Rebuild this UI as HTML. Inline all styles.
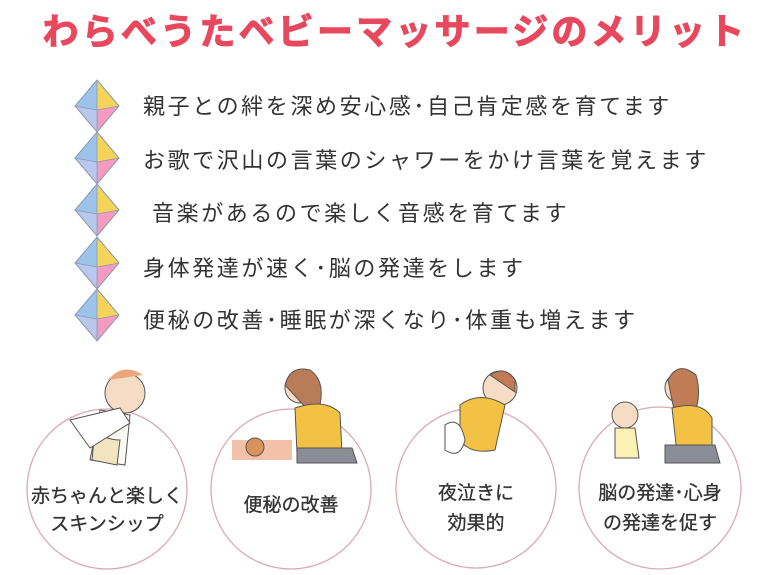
<!DOCTYPE html>
<html><head><meta charset="utf-8"><style>
html,body{margin:0;padding:0;background:#fff;width:767px;height:575px;overflow:hidden}
svg{display:block}
text{font-family:"Liberation Sans","Noto Sans CJK JP",sans-serif}
</style></head><body>
<svg width="767" height="575" viewBox="0 0 767 575" xmlns="http://www.w3.org/2000/svg">
<defs>
<g id="dia">
<polygon points="0,-26 -22,0 0,4" fill="#9cc3ea"/>
<polygon points="0,-26 22,0 0,4" fill="#f6d45a"/>
<polygon points="-22,0 0,4 0,26" fill="#b7c8ec"/>
<polygon points="22,0 0,4 0,26" fill="#f59ac0"/>
<polygon points="0,-26 22,0 0,26 -22,0" fill="none" stroke="#8a9ab0" stroke-width="1"/>
<path d="M-22,0 L0,4 L22,0 M0,-26 L0,26" stroke="#8a9ab0" stroke-width="0.8" fill="none"/>
</g>
</defs>
<text x="395" y="44" text-anchor="middle" font-size="36" font-weight="bold" fill="#e8485e" stroke="#e8485e" stroke-width="1" letter-spacing="3.2">わらべうたベビーマッサージのメリット</text>
<use href="#dia" x="97" y="106"/>
<use href="#dia" x="97" y="158"/>
<use href="#dia" x="97" y="210"/>
<use href="#dia" x="97" y="263"/>
<use href="#dia" x="97" y="315"/>
<g font-size="22" fill="#333" letter-spacing="2.6">
<text x="143" y="114">親子との絆を深め安心感･自己肯定感を育てます</text>
<text x="143" y="168">お歌で沢山の言葉のシャワーをかけ言葉を覚えます</text>
<text x="152" y="221">音楽があるので楽しく音感を育てます</text>
<text x="143" y="276">身体発達が速く･脳の発達をします</text>
<text x="143" y="328">便秘の改善･睡眠が深くなり･体重も増えます</text>
</g>
<g fill="#fff" stroke="#d9a9b0" stroke-width="1.3">
<circle cx="107" cy="489" r="80"/>
<circle cx="291" cy="489" r="80"/>
<circle cx="476" cy="488" r="80"/>
<circle cx="660" cy="488" r="81"/>
</g>
<g stroke="#555" stroke-width="1">
<circle cx="125" cy="393" r="20" fill="#f6dcc4"/>
<path d="M108 380 q15 -18 35 -5" fill="#e9a77a" stroke="none"/>
<path d="M100 410 l30 5 l-5 50 l-35 -5 z" fill="#fbfbf5"/>
<path d="M95 430 q10 10 25 10 l-3 25 l-25 -5 z" fill="#f3e4c0"/>
<path d="M70 420 l50 -12 l10 15 l-40 25 z" fill="#fff"/>
<circle cx="300" cy="388" r="15" fill="#f6dcc4"/>
<path d="M285 385 q5 -20 25 -15 q15 10 10 35 l-12 5 z" fill="#b97c58"/>
<path d="M295 408 q30 -10 45 5 l2 40 l-45 0 z" fill="#f3c244"/>
<path d="M297 448 l55 0 l5 15 l-60 0 z" fill="#8a8d96"/>
<rect x="232" y="440" width="60" height="20" fill="#f2c1a8" stroke="none"/>
<circle cx="255" cy="447" r="9" fill="#d8925c"/>
<circle cx="500" cy="388" r="17" fill="#f6dcc4"/>
<path d="M490 375 q15 -10 25 5 l0 12 z" fill="#c17b55"/>
<path d="M460 405 q20 -15 45 0 l-10 45 q-25 5 -35 -10 z" fill="#f3c244"/>
<path d="M445 425 q15 -10 20 15 q-5 20 -20 10 z" fill="#fff"/>
<circle cx="625" cy="415" r="13" fill="#f6dcc4"/>
<path d="M615 428 l20 0 l4 30 l-24 0 z" fill="#fbf1b5"/>
<circle cx="680" cy="388" r="15" fill="#f6dcc4"/>
<path d="M668 380 q10 -20 28 -5 q6 20 -2 40 l-20 -5 z" fill="#c17b55"/>
<path d="M672 408 q30 -8 40 10 l0 35 l-35 0 z" fill="#f3c244"/>
<path d="M665 445 l50 0 l5 18 l-55 0 z" fill="#8a8d96"/>
</g>
<g font-size="19" fill="#333" stroke="#333" stroke-width="0.3" text-anchor="middle">
<text x="107" y="502">赤ちゃんと楽しく</text>
<text x="107" y="530">スキンシップ</text>
<text x="291" y="511">便秘の改善</text>
<text x="476" y="499">夜泣きに</text>
<text x="476" y="529">効果的</text>
<text x="660" y="499">脳の発達･心身</text>
<text x="660" y="529">の発達を促す</text>
</g>
</svg>
</body></html>
